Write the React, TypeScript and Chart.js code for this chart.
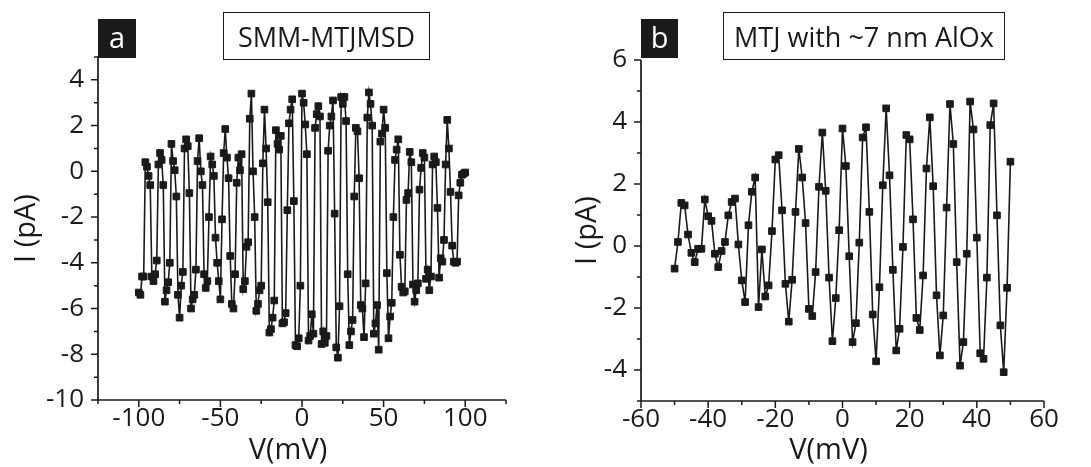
import React, { useEffect, useRef } from "react";
import { Chart, registerables } from "chart.js";

Chart.register(...registerables);

// ---------- Panel a : SMM-MTJMSD ----------
const A_V = [
  -100, -99, -98, -97, -96, -95, -94, -93, -92, -91,
  -90, -89, -88, -87, -86, -85, -84, -83, -82, -81,
  -80, -79, -78, -77, -76, -75, -74, -73, -72, -71,
  -70, -69, -68, -67, -66, -65, -64, -63, -62, -61,
  -60, -59, -58, -57, -56, -55, -54, -53, -52, -51,
  -50, -49, -48, -47, -46, -45, -44, -43, -42, -41,
  -40, -39, -38, -37, -36, -35, -34, -33, -32, -31,
  -30, -29, -28, -27, -26, -25, -24, -23, -22, -21,
  -20, -19, -18, -17, -16, -15, -14, -13, -12, -11,
  -10, -9, -8, -7, -6, -5, -4, -3, -2, -1,
  0, 1, 2, 3, 4, 5, 6, 7, 8, 9,
  10, 11, 12, 13, 14, 15, 16, 17, 18, 19,
  20, 21, 22, 23, 24, 25, 26, 27, 28, 29,
  30, 31, 32, 33, 34, 35, 36, 37, 38, 39,
  40, 41, 42, 43, 44, 45, 46, 47, 48, 49,
  50, 51, 52, 53, 54, 55, 56, 57, 58, 59,
  60, 61, 62, 63, 64, 65, 66, 67, 68, 69,
  70, 71, 72, 73, 74, 75, 76, 77, 78, 79,
  80, 81, 82, 83, 84, 85, 86, 87, 88, 89,
  90, 91, 92, 93, 94, 95, 96, 97, 98, 99,
  100,
];
const A_I = [
  -5.3, -5.4, -4.6, -4.6, 0.4, 0.2, -0.2, -0.6,
  -4.6, -4.8, -4.5, -3.9, 0.3, 0.8, 0.5, -0.6,
  -5.7, -5.2, -4.85, -4.0, 1.2, 0.45, 0.05, -1.1,
  -5.4, -6.4, -5.0, -4.4, 1.0, 1.4, 1.1, -0.95,
  -6.0, -5.6, -5.4, -4.3, 0.45, 1.45, 0.0, -0.6,
  -4.5, -5.1, -4.8, -2.0, 0.65, 0.3, -0.2, -2.9,
  -4.0, -4.8, -5.6, -2.1, 0.8, 1.85, 0.6, -0.3,
  -3.7, -5.8, -6.0, -4.5, -0.5, 0.6, 0.05, 0.75,
  -5.15, -4.8, -3.3, -3.1, 2.3, 3.4, 0.0, -2.0,
  -6.1, -5.8, -5.2, -5.0, 0.35, 2.7, 1.0, -1.35,
  -7.05, -6.9, -6.4, -5.65, 1.8, 1.2, 0.95, 1.55,
  -6.65, -6.6, -6.2, -1.7, 2.1, 2.7, 3.15, -1.3,
  -7.6, -7.65, -7.3, -5.0, 3.4, 3.0, 2.05, 0.75,
  -7.4, -7.2, -6.25, -7.1, 1.9, 2.5, 2.85, 2.4,
  -7.55, -7.0, -7.5, -7.2, 0.9, 2.0, 2.4, 3.1,
  -1.85, -7.7, -8.15, -5.9, 3.25, 2.95, 3.25, 2.2,
  -4.5, -7.6, -7.0, -6.5, -1.1, 1.9, 1.75, -0.3,
  -5.85, -6.0, -7.25, -4.9, 2.35, 3.45, 2.95, 2.0,
  -7.1, -6.65, -5.85, -7.8, 1.3, 1.65, 2.7, 1.9,
  -4.45, -7.3, -6.35, -5.75, -2.0, 0.5, 0.95, 1.4,
  -3.65, -5.05, -5.3, -5.25, -1.25, -0.95, 0.85, 0.4,
  -4.95, -5.7, -5.2, -4.9, -0.8, 0.15, 0.8, 0.6,
  -4.7, -4.3, -5.2, -4.6, 0.3, 0.65, 0.4, -1.6,
  -4.65, -3.8, -3.95, -3.0, 0.3, 2.25, 1.0, -0.9,
  -3.25, -3.95, -4.0, -3.95, -1.05, -0.5, -0.15, -0.1,
  -0.05,
];
const A_X_MAJOR = [-100, -50, 0, 50, 100];
const A_X_MINOR = [-125, -75, -25, 25, 75, 125];
const A_Y_MAJOR = [-10, -8, -6, -4, -2, 0, 2, 4];
const A_Y_MINOR = [-9, -7, -5, -3, -1, 1, 3, 5];

// ---------- Panel b : MTJ with ~7 nm AlOx ----------
const B_V = [
  -50, -49, -48, -47, -46, -45, -44, -43, -42, -41,
  -40, -39, -38, -37, -36, -35, -34, -33, -32, -31,
  -30, -29, -28, -27, -26, -25, -24, -23, -22, -21,
  -20, -19, -18, -17, -16, -15, -14, -13, -12, -11,
  -10, -9, -8, -7, -6, -5, -4, -3, -2, -1,
  0, 1, 2, 3, 4, 5, 6, 7, 8, 9,
  10, 11, 12, 13, 14, 15, 16, 17, 18, 19,
  20, 21, 22, 23, 24, 25, 26, 27, 28, 29,
  30, 31, 32, 33, 34, 35, 36, 37, 38, 39,
  40, 41, 42, 43, 44, 45, 46, 47, 48, 49,
  50,
];
const B_I = [
  -0.73, 0.13, 1.39, 1.31, 0.37, -0.22, -0.52, -0.09, -0.09, 1.5,
  0.96, 0.81, -0.25, -0.68, -0.16, 0.13, 0.99, 1.42, 1.53, 0.05,
  -1.11, -1.81, 0.67, 1.75, 2.21, -1.97, -0.11, -1.63, -1.27, 0.48,
  2.79, 2.93, 1.15, -1.22, -2.44, -1.09, 1.1, 3.13, 2.21, 0.74,
  -2.03, -2.26, -0.84, 1.91, 3.66, 1.78, -1.02, -3.07, -1.68, 0.51,
  3.79, 2.58, -0.33, -3.1, -2.49, 0.11, 3.5, 3.83, 1.1, -2.21,
  -3.72, -1.33, 1.96, 4.44, 2.28, -0.77, -3.37, -2.67, -0.03, 3.58,
  3.44, 0.86, -2.32, -2.71, -0.95, 2.5, 4.15, 1.93, -1.59, -3.53,
  -2.24, 1.24, 4.58, 3.29, -0.52, -3.86, -3.1, -0.25, 4.66, 3.76,
  0.27, -3.46, -3.64, -1.02, 3.9, 4.6, 0.99, -2.56, -4.07, -1.35,
  2.72,
];
const B_X_MAJOR = [-60, -40, -20, 0, 20, 40, 60];
const B_X_MINOR = [-50, -30, -10, 10, 30, 50];
const B_Y_MAJOR = [-4, -2, 0, 2, 4, 6];
const B_Y_MINOR = [-5, -3, -1, 1, 3, 5];

const X_TITLE = "V(mV)";
const Y_TITLE = "I (pA)";

const INK = "#1a1a1a";
const FONT = "'Open Sans', 'DejaVu Sans', sans-serif";
const TICK_SIZE = 26;
const TITLE_SIZE = 29;

const axesPlugin = {
  id: "axesTicks",
  afterDatasetsDraw(chart: any, _args: any, opts: any) {
    const { ctx, chartArea } = chart;
    const { left, right, top, bottom } = chartArea;
    const x = chart.scales.x;
    const y = chart.scales.y;
    ctx.save();
    ctx.strokeStyle = INK;
    ctx.lineWidth = 1.7;
    ctx.beginPath();
    ctx.moveTo(left, top);
    ctx.lineTo(left, bottom);
    ctx.lineTo(right, bottom);
    ctx.stroke();
    ctx.lineWidth = 1.5;
    ctx.beginPath();
    for (const v of opts.xMajor) {
      const p = x.getPixelForValue(v);
      ctx.moveTo(p, bottom);
      ctx.lineTo(p, bottom + 7);
    }
    for (const v of opts.xMinor) {
      const p = x.getPixelForValue(v);
      ctx.moveTo(p, bottom);
      ctx.lineTo(p, bottom + 4);
    }
    for (const v of opts.yMajor) {
      const p = y.getPixelForValue(v);
      ctx.moveTo(left, p);
      ctx.lineTo(left - 7, p);
    }
    for (const v of opts.yMinor) {
      const p = y.getPixelForValue(v);
      ctx.moveTo(left, p);
      ctx.lineTo(left - 4, p);
    }
    ctx.stroke();
    // x axis title, slightly left of centre as in the original figure
    ctx.fillStyle = INK;
    ctx.font = `${TITLE_SIZE}px ${FONT}`;
    ctx.textAlign = "center";
    ctx.textBaseline = "middle";
    ctx.fillText(X_TITLE, (left + right) / 2 - 14, opts.xTitleY);
    ctx.restore();
  },
};

type PanelCfg = {
  xs: number[];
  ys: number[];
  xMin: number;
  xMax: number;
  yMin: number;
  yMax: number;
  xMajor: number[];
  xMinor: number[];
  yMajor: number[];
  yMinor: number[];
  padTop: number;
  padRight: number;
  yWidth: number;
  xHeight: number;
  yTitlePad: number;
  xTitleY: number;
};

function makeChart(canvas: HTMLCanvasElement, c: PanelCfg) {
  const tickFont = { family: FONT, size: TICK_SIZE };
  const titleFont = { family: FONT, size: TITLE_SIZE };
  return new Chart(canvas, {
    type: "line",
    data: {
      datasets: [
        {
          data: c.xs.map((v, i) => ({ x: v, y: c.ys[i] })),
          borderColor: INK,
          borderWidth: 1.6,
          pointStyle: "rect",
          pointRadius: 4.7,
          pointBackgroundColor: INK,
          pointBorderColor: INK,
          pointBorderWidth: 1,
          tension: 0,
          fill: false,
        },
      ],
    },
    options: {
      animation: false,
      responsive: false,
      maintainAspectRatio: false,
      layout: { padding: { left: 0, top: c.padTop, right: c.padRight, bottom: 0 } },
      plugins: {
        legend: { display: false },
        tooltip: { enabled: false },
        axesTicks: {
          xMajor: c.xMajor,
          xMinor: c.xMinor,
          yMajor: c.yMajor,
          yMinor: c.yMinor,
          xTitleY: c.xTitleY,
        },
      } as any,
      scales: {
        x: {
          type: "linear",
          min: c.xMin,
          max: c.xMax,
          grid: { display: false, drawTicks: false },
          border: { display: false },
          afterBuildTicks: (s: any) => {
            s.ticks = c.xMajor.map((v) => ({ value: v }));
          },
          afterFit: (s: any) => {
            s.height = c.xHeight;
          },
          ticks: {
            font: tickFont,
            color: INK,
            padding: 3,
            maxRotation: 0,
            autoSkip: false,
            callback: (v: any) => String(v),
          },
          title: { display: false },
        },
        y: {
          type: "linear",
          min: c.yMin,
          max: c.yMax,
          grid: { display: false, drawTicks: false },
          border: { display: false },
          afterBuildTicks: (s: any) => {
            s.ticks = c.yMajor.map((v) => ({ value: v }));
          },
          afterFit: (s: any) => {
            s.width = c.yWidth;
          },
          ticks: {
            font: tickFont,
            color: INK,
            padding: 14,
            autoSkip: false,
            callback: (v: any) => String(v),
          },
          title: {
            display: true,
            text: Y_TITLE,
            font: titleFont,
            color: INK,
            padding: { top: c.yTitlePad, bottom: 0 },
          },
        },
      },
    },
    plugins: [axesPlugin],
  } as any);
}

function Panel({ cfg, left, width }: { cfg: PanelCfg; left: number; width: number }) {
  const ref = useRef<HTMLCanvasElement | null>(null);
  useEffect(() => {
    if (!ref.current) return;
    const ch = makeChart(ref.current, cfg);
    return () => ch.destroy();
  }, []);
  return (
    <canvas
      ref={ref}
      width={width}
      height={467}
      style={{ position: "absolute", left, top: 0, width, height: 467 }}
    />
  );
}

const boxLetter: React.CSSProperties = {
  position: "absolute",
  background: INK,
  color: "#fff",
  fontFamily: FONT,
  fontSize: 29,
  display: "flex",
  alignItems: "center",
  justifyContent: "center",
  lineHeight: 1,
  paddingBottom: 4,
  boxSizing: "border-box",
};
const boxTitle: React.CSSProperties = {
  position: "absolute",
  border: `1.6px solid ${INK}`,
  color: INK,
  fontFamily: FONT,
  fontSize: 27,
  display: "flex",
  alignItems: "center",
  justifyContent: "center",
  boxSizing: "border-box",
  whiteSpace: "nowrap",
};

export default function App() {
  const cfgA: PanelCfg = {
    xs: A_V,
    ys: A_I,
    xMin: -125,
    xMax: 125,
    yMin: -10,
    yMax: 5,
    xMajor: A_X_MAJOR,
    xMinor: A_X_MINOR,
    yMajor: A_Y_MAJOR,
    yMinor: A_Y_MINOR,
    padTop: 57,
    padRight: 39,
    yWidth: 98,
    xHeight: 67,
    yTitlePad: 9,
    xTitleY: 451,
  };
  const cfgB: PanelCfg = {
    xs: B_V,
    ys: B_I,
    xMin: -60,
    xMax: 60,
    yMin: -5,
    yMax: 6,
    xMajor: B_X_MAJOR,
    xMinor: B_X_MINOR,
    yMajor: B_Y_MAJOR,
    yMinor: B_Y_MINOR,
    padTop: 60,
    padRight: 47,
    yWidth: 96,
    xHeight: 66,
    yTitlePad: 25,
    xTitleY: 451,
  };
  return (
    <div
      style={{
        position: "absolute",
        left: 0,
        top: 0,
        width: 1091,
        height: 467,
        background: "#fff",
        overflow: "hidden",
      }}
    >
      <Panel cfg={cfgA} left={0} width={545} />
      <Panel cfg={cfgB} left={545} width={546} />
      <div style={{ ...boxLetter, left: 98, top: 19, width: 38, height: 39 }}>a</div>
      <div style={{ ...boxTitle, left: 223, top: 12, width: 207, height: 48 }}>SMM-MTJMSD</div>
      <div style={{ ...boxLetter, left: 641, top: 19, width: 37, height: 39 }}>b</div>
      <div style={{ ...boxTitle, left: 723, top: 12, width: 282, height: 48 }}>MTJ with ~7 nm AlOx</div>
    </div>
  );
}
